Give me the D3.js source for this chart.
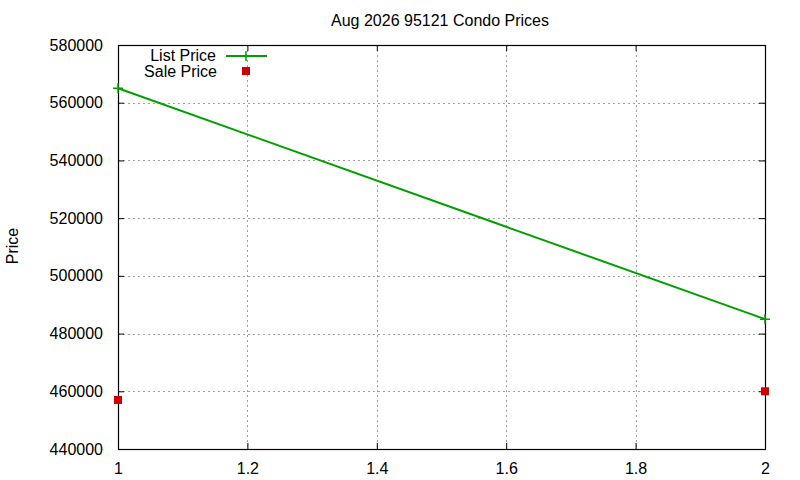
<!DOCTYPE html>
<html>
<head>
<meta charset="utf-8">
<script src="https://cdn.jsdelivr.net/npm/d3@7"></script>
<style>
  body { margin: 0; background: #fff; }
  svg { font-family: "Liberation Sans", Arial, sans-serif; }
</style>
</head>
<body>
<svg id="chart" width="800" height="480"></svg>
<script>
// data
const xValues = [1, 2];
const listPrice = [565000, 485000];
const salePrice = [457000, 460000];
const xTicks = [1, 1.2, 1.4, 1.6, 1.8, 2];
const yTicks = [440000, 460000, 480000, 500000, 520000, 540000, 560000, 580000];

const plotLeft = 118, plotRight = 765, plotTop = 45, plotBottom = 449;

const svg = d3.select('#chart');

const x = d3.scaleLinear().domain([1, 2]).range([plotLeft, plotRight]);
const y = d3.scaleLinear().domain([440000, 580000]).range([plotBottom, plotTop]);

// grid
const grid = svg.append('g')
    .attr('stroke', '#a0a0a0')
    .attr('stroke-width', 1)
    .attr('stroke-dasharray', '2,3');
grid.selectAll('.gx')
    .data(xTicks.slice(1, -1))
    .enter().append('line')
        .attr('x1', d => Math.round(x(d)) + 0.5)
        .attr('x2', d => Math.round(x(d)) + 0.5)
        .attr('y1', plotTop)
        .attr('y2', plotBottom);
grid.selectAll('.gy')
    .data(yTicks.slice(1, -1))
    .enter().append('line')
        .attr('x1', plotLeft)
        .attr('x2', plotRight)
        .attr('y1', d => Math.round(y(d)) + 0.5)
        .attr('y2', d => Math.round(y(d)) + 0.5);

// axes (ticks inward, mirrored)
const axisStyle = g => {
    g.select('.domain').remove();
    g.selectAll('text').attr('fill', '#000').style('font-size', '16px');
    g.selectAll('line').attr('stroke', '#000');
};
svg.append('g')
    .attr('transform', `translate(0,${plotBottom})`)
    .call(d3.axisBottom(x).tickValues(xTicks).tickSizeInner(-6).tickSizeOuter(0).tickPadding(14)
        .tickFormat(d3.format('')))
    .call(axisStyle);
svg.append('g')
    .attr('transform', `translate(0,${plotTop})`)
    .call(d3.axisTop(x).tickValues(xTicks).tickSizeInner(-6).tickSizeOuter(0).tickFormat(''))
    .call(axisStyle);
svg.append('g')
    .attr('transform', `translate(${plotLeft},0)`)
    .call(d3.axisLeft(y).tickValues(yTicks).tickSizeInner(-6).tickSizeOuter(0).tickPadding(15)
        .tickFormat(d3.format('d')))
    .call(axisStyle);
svg.append('g')
    .attr('transform', `translate(${plotRight},0)`)
    .call(d3.axisRight(y).tickValues(yTicks).tickSizeInner(-6).tickSizeOuter(0).tickFormat(''))
    .call(axisStyle);

svg.append('rect')
    .attr('x', plotLeft + 0.5).attr('y', plotTop + 0.5)
    .attr('width', plotRight - plotLeft).attr('height', plotBottom - plotTop)
    .attr('fill', 'none').attr('stroke', '#000').attr('stroke-width', 1.2);

// title and label
svg.append('text')
    .attr('x', 440).attr('y', 26)
    .attr('text-anchor', 'middle')
    .style('font-size', '16px')
    .text('Aug 2026 95121 Condo Prices');
svg.append('text')
    .attr('transform', 'translate(18,246) rotate(-90)')
    .attr('text-anchor', 'middle')
    .style('font-size', '16px')
    .text('Price');

// list price line
const green = '#00a000';
const red = '#cc0000';
const listData = xValues.map((d, i) => ({x: d, v: listPrice[i]}));
const saleData = xValues.map((d, i) => ({x: d, v: salePrice[i]}));

svg.append('path')
    .datum(listData)
    .attr('fill', 'none')
    .attr('stroke', green)
    .attr('stroke-width', 2)
    .attr('d', d3.line().x(d => x(d.x)).y(d => y(d.v)));

const cross = (g, cx, cy) => {
    g.append('path')
        .attr('d', `M${cx - 5},${cy}H${cx + 5}M${cx},${cy - 5}V${cy + 5}`)
        .attr('stroke', green).attr('stroke-width', 1.5);
};
listData.forEach(d => cross(svg, x(d.x), y(d.v)));

svg.selectAll('.sale')
    .data(saleData)
    .enter().append('rect')
        .attr('x', d => x(d.x) - 4)
        .attr('y', d => y(d.v) - 4)
        .attr('width', 8)
        .attr('height', 8)
        .attr('fill', red);

// legend
svg.append('text')
    .attr('x', 216).attr('y', 61)
    .attr('text-anchor', 'end')
    .style('font-size', '16px')
    .text('List Price');
svg.append('line')
    .attr('x1', 226).attr('x2', 267)
    .attr('y1', 56).attr('y2', 56)
    .attr('stroke', green).attr('stroke-width', 2);
cross(svg, 246, 56);
svg.append('text')
    .attr('x', 217).attr('y', 77)
    .attr('text-anchor', 'end')
    .style('font-size', '16px')
    .text('Sale Price');
svg.append('rect')
    .attr('x', 242).attr('y', 67)
    .attr('width', 8).attr('height', 8)
    .attr('fill', red);
</script>
</body>
</html>
